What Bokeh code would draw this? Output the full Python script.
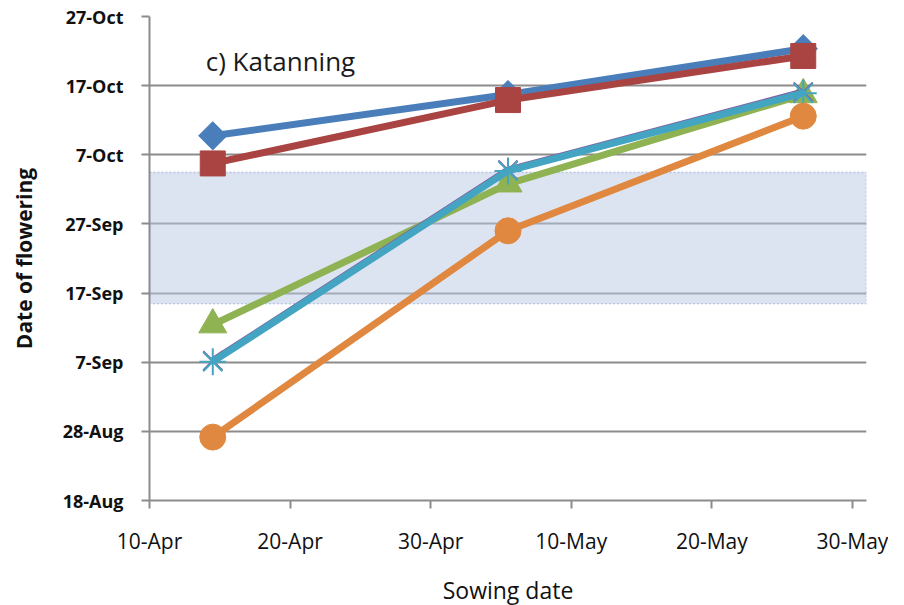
import pandas as pd
from bokeh.plotting import figure
from bokeh.models import FixedTicker, BoxAnnotation, Label, Range1d
from bokeh.embed import file_html
from bokeh.resources import INLINE

# ---------------- data ----------------
sowing_dates = ["2013-04-14 12:00", "2013-05-05 12:00", "2013-05-26 12:00"]

flower_blue = ["2013-10-09 18:00", "2013-10-15 17:00", "2013-10-22 08:00"]
flower_red = ["2013-10-05 18:00", "2013-10-14 22:00", "2013-10-21 07:00"]
flower_green = ["2013-09-12 10:00", "2013-10-02 19:00", "2013-10-15 17:00"]
flower_purple = ["2013-09-07 05:00", "2013-10-04 19:00", "2013-10-16 02:00"]
flower_cyan = ["2013-09-07 02:00", "2013-10-04 16:00", "2013-10-15 22:00"]
flower_orange = ["2013-08-27 04:00", "2013-09-26 00:00", "2013-10-12 14:00"]

band_dates = ["2013-09-15 11:00", "2013-10-04 11:00"]

x_tick_dates = ["2013-04-10", "2013-04-20", "2013-04-30", "2013-05-10", "2013-05-20", "2013-05-30"]
x_tick_labels = ["10-Apr", "20-Apr", "30-Apr", "10-May", "20-May", "30-May"]
y_tick_dates = ["2013-08-18", "2013-08-28", "2013-09-07", "2013-09-17",
                "2013-09-27", "2013-10-07", "2013-10-17", "2013-10-27"]
y_tick_labels = ["18-Aug", "28-Aug", "7-Sep", "17-Sep", "27-Sep", "7-Oct", "17-Oct", "27-Oct"]
x_limits = ["2013-04-10", "2013-05-31"]
y_limits = ["2013-08-18", "2013-10-27"]
label_pos = ["2013-04-14 00:00", "2013-10-20 12:00"]

EPOCH = pd.Timestamp("2013-01-01")


def days(vals):
    return [float((pd.Timestamp(v) - EPOCH) / pd.Timedelta(days=1)) for v in vals]


xs = days(sowing_dates)
xt = days(x_tick_dates)
yt = days(y_tick_dates)

p = figure(frame_width=717, frame_height=484,
           min_border_left=149, min_border_top=16, min_border_right=22, min_border_bottom=98,
           x_range=Range1d(*days(x_limits)), y_range=Range1d(*days(y_limits)),
           output_backend="svg", toolbar_location=None)
p.outline_line_color = None
p.background_fill_color = "white"

# band
b0, b1 = days(band_dates)
band = BoxAnnotation(bottom=b0, top=b1, fill_color="#b9c9e6", fill_alpha=0.5,
                     line_color="#4f72ad", line_dash="2 2", line_width=1.6, level="underlay")
p.add_layout(band)

# grid
p.xgrid.visible = False
p.ygrid.ticker = FixedTicker(ticks=yt)
p.ygrid.grid_line_color = "#8c8c8c"
p.ygrid.grid_line_width = 2

# axes
p.xaxis.ticker = FixedTicker(ticks=xt)
p.xaxis.major_label_overrides = {t: l for t, l in zip(xt, x_tick_labels)}
p.yaxis.ticker = FixedTicker(ticks=yt)
p.yaxis.major_label_overrides = {t: l for t, l in zip(yt, y_tick_labels)}
for ax in (p.xaxis[0], p.yaxis[0]):
    ax.axis_line_color = "#8c8c8c"
    ax.axis_line_width = 2
    ax.major_tick_line_color = "#8c8c8c"
    ax.major_tick_line_width = 2
    ax.major_tick_out = 8
    ax.major_tick_in = 0
    ax.minor_tick_line_color = None
    ax.major_label_text_color = "#111111"
    ax.axis_label_text_color = "#111111"
    ax.major_label_text_font = "Open Sans"
    ax.axis_label_text_font = "Open Sans"

p.xaxis.major_label_text_font_size = "21px"
p.xaxis.major_label_standoff = 18
p.xaxis.axis_label = "Sowing date"
p.xaxis.axis_label_text_font_size = "23px"
p.xaxis.axis_label_text_font_style = "normal"
p.xaxis.axis_label_standoff = 16

p.yaxis.major_label_text_font_size = "18px"
p.yaxis.major_label_text_font_style = "bold"
p.yaxis.major_label_standoff = 18
p.yaxis.axis_label = "Date of flowering"
p.yaxis.axis_label_text_font_size = "21px"
p.yaxis.axis_label_text_font_style = "bold"
p.yaxis.axis_label_standoff = 22

series = [
    (flower_blue, "#4a7ebb", "square", 20, 0.785398),
    (flower_red, "#a94442", "square", 25, 0.0),
    (flower_green, "#8fb253", "triangle", 28, 0.0),
    (flower_purple, "#7f63a1", "x", 27, 0.0),
    (flower_cyan, "#43a5c2", "asterisk", 27, 0.0),
    (flower_orange, "#e0883f", "circle", 26, 0.0),
]
for vals, color, marker, size, ang in series:
    ys = days(vals)
    p.line(xs, ys, line_color=color, line_width=7)
    if marker in ("x", "asterisk"):
        p.scatter(xs, ys, marker=marker, size=size, line_color=color, line_width=2)
    else:
        p.scatter(xs, ys, marker=marker, size=size, angle=ang,
                  fill_color=color, line_color=color, line_width=1)

lx, ly = days(label_pos)
p.add_layout(Label(x=lx, y=ly, text="c) Katanning", text_font="Open Sans",
                   text_font_size="26px", text_color="#1a1a1a", text_baseline="middle"))

open("out.html", "w").write(file_html(p, INLINE))
